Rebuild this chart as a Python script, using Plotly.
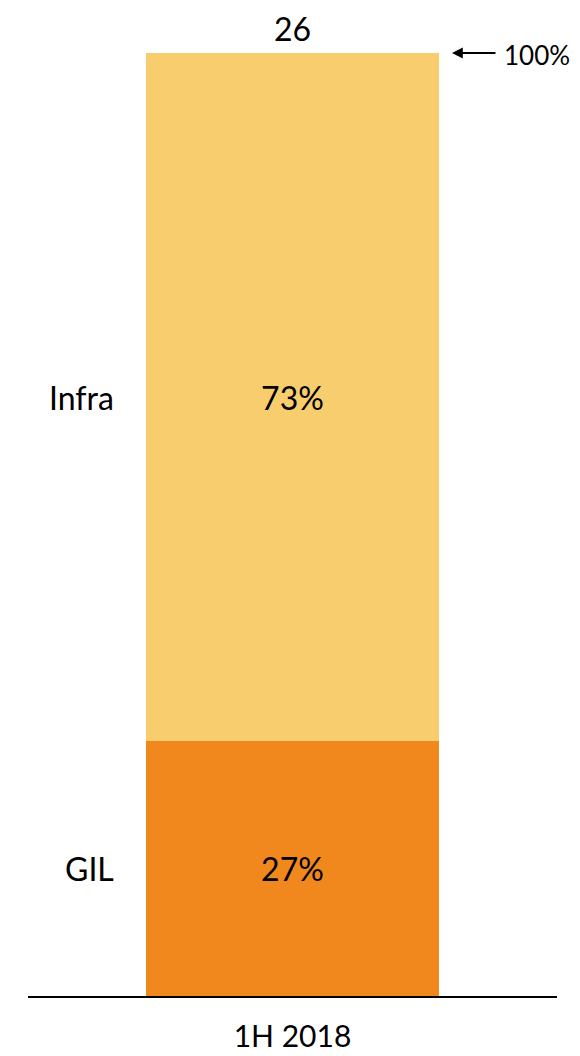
import plotly.graph_objects as go

categories = ["1H 2018"]
segments = ["GIL", "Infra"]
gil_share = [27]
infra_share = [73]
total_label = ["26"]
top_marker = "100%"

colors = {"GIL": "#F0881E", "Infra": "#F8CD6E"}
FONT = "Lato"
FS = 32

fig = go.Figure()
for name, vals in (("GIL", gil_share), ("Infra", infra_share)):
    fig.add_trace(go.Bar(
        x=categories, y=vals, name=name,
        marker=dict(color=colors[name], line=dict(width=0)),
        width=1.0,
        text=[f"{v}%" for v in vals], textposition="inside",
        insidetextanchor="middle", textangle=0,
        textfont=dict(family=FONT, size=FS, color="black"),
        hoverinfo="skip",
    ))

# Side labels at segment midpoints
mids = [gil_share[0] / 2, gil_share[0] + infra_share[0] / 2]
for name, m in zip(segments, mids):
    fig.add_annotation(x=0.166, xref="paper", y=m, yref="y", text=name,
                       showarrow=False, xanchor="right", yanchor="middle",
                       font=dict(family=FONT, size=FS, color="black"))

total = gil_share[0] + infra_share[0]
fig.add_annotation(x=categories[0], y=total, text=total_label[0], showarrow=False,
                   yanchor="middle", yshift=25,
                   font=dict(family=FONT, size=FS, color="black"))

# Arrow pointing to 100%
fig.add_annotation(x=0.8015, xref="paper", y=total, yref="y", text="",
                   showarrow=True, arrowhead=2, arrowsize=1.2, arrowwidth=1.8,
                   arrowcolor="black", ax=45, ay=0, axref="pixel", ayref="pixel")
fig.add_annotation(x=0.896, xref="paper", y=total, yref="y", text=top_marker,
                   showarrow=False, xanchor="left", yanchor="middle", yshift=-2,
                   font=dict(family=FONT, size=26, color="black"))

fig.update_layout(
    barmode="stack", showlegend=False,
    width=572, height=1048,
    margin=dict(l=20, r=23, t=45, b=60, autoexpand=False),
    plot_bgcolor="white", paper_bgcolor="white",
    bargap=0,
)
fig.update_xaxes(range=[-0.9, 0.9], showline=True, linecolor="black", linewidth=1.5,
                 ticks="", tickfont=dict(family=FONT, size=30, color="black"),
                 ticklabelstandoff=13, automargin=False,
                 showgrid=False, zeroline=False, fixedrange=True)
fig.update_yaxes(range=[0, 100], visible=False, showgrid=False, zeroline=False,
                 automargin=False, fixedrange=True)

fig.write_html("out.html")
